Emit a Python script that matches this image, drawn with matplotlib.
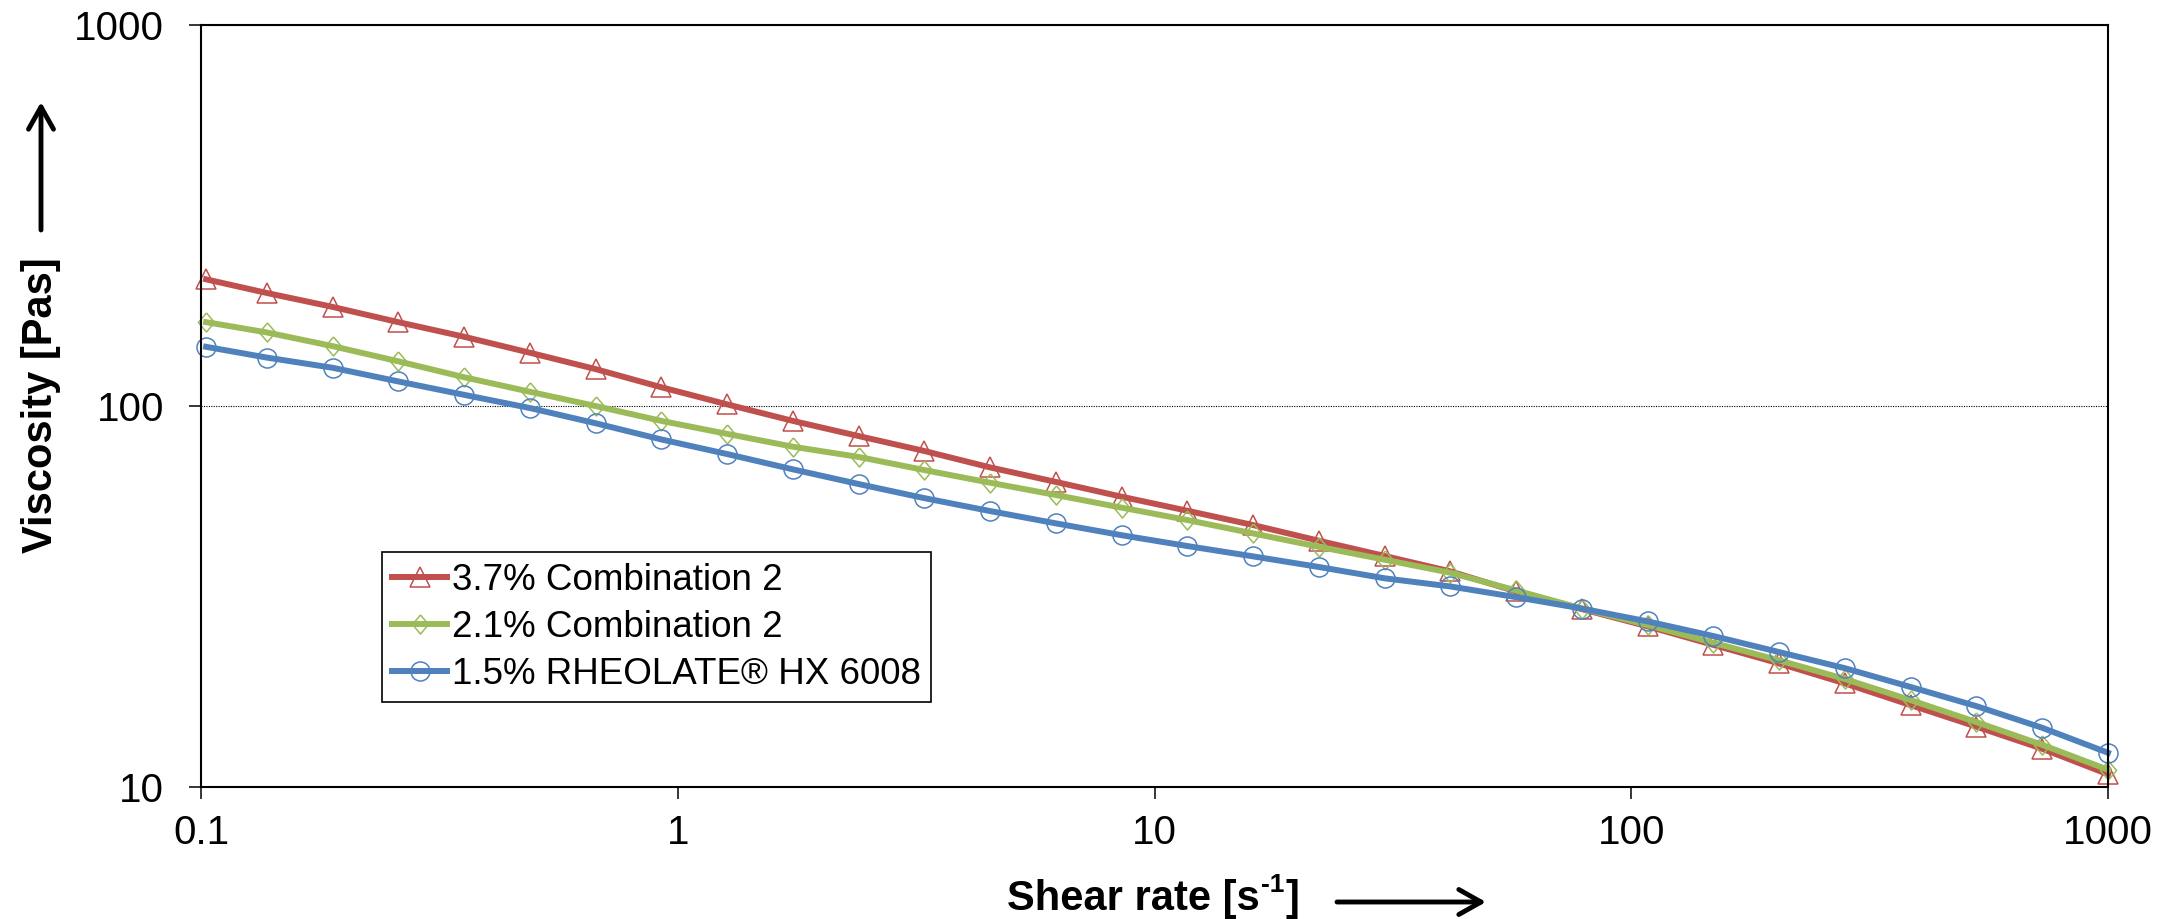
import matplotlib
matplotlib.use('Agg')
import matplotlib.pyplot as plt
from matplotlib.patches import FancyArrowPatch
from matplotlib.ticker import FixedLocator, FixedFormatter, NullLocator

plt.rcParams['font.family'] = ['Liberation Sans', 'DejaVu Sans']

# ---- data ----
shear_rate = [0.1025, 0.1374, 0.1888, 0.2593, 0.3562, 0.4894, 0.6723, 0.9237,
              1.269, 1.743, 2.395, 3.290, 4.520, 6.210, 8.531, 11.72, 16.10,
              22.12, 30.39, 41.75, 57.36, 78.80, 108.3, 148.7, 204.3, 280.7,
              385.7, 529.8, 727.9, 1000.0]

visc_37_comb2 = [215, 198, 182, 166, 152, 138, 125, 112, 101, 91.4,
                 83.4, 76.2, 69.0, 63.2, 57.8, 53.1, 48.7, 44.3, 40.4, 36.8,
                 32.6, 29.3, 26.4, 23.6, 21.1, 18.7, 16.4, 14.4, 12.6, 10.8]

visc_21_comb2 = [166, 156, 143.6, 131, 119, 109, 100, 91.4, 84.5, 78.2,
                 73.5, 67.9, 62.9, 58.4, 54.1, 50.2, 46.3, 42.7, 39.5, 36.5,
                 32.8, 29.4, 26.6, 23.9, 21.5, 19.2, 16.9, 14.8, 12.9, 11.1]

visc_15_hx6008 = [143, 134, 126, 116, 107, 98.8, 90.1, 81.7, 74.8, 68.2,
                  62.4, 57.3, 53.0, 49.2, 45.8, 42.9, 40.3, 37.8, 35.3, 33.6,
                  31.5, 29.4, 27.2, 24.9, 22.6, 20.5, 18.3, 16.3, 14.3, 12.3]

series_labels = ['3.7% Combination 2', '2.1% Combination 2', '1.5% RHEOLATE® HX 6008']
x_ticks = [0.1, 1, 10, 100, 1000]
x_tick_labels = ['0.1', '1', '10', '100', '1000']
y_ticks = [10, 100, 1000]
y_tick_labels = ['10', '100', '1000']

# ---- figure ----
W, H = 2175, 919
fig = plt.figure(figsize=(W / 100, H / 100), dpi=100)
ax = fig.add_axes([201 / W, 1 - 787 / H, (2108 - 201) / W, (787 - 25) / H])

red, green, blue = '#C0504D', '#9BBB59', '#4F81BD'
diamond = [(0, 1), (0.85, 0), (0, -1), (-0.85, 0), (0, 1)]

common = dict(lw=4.3, ms=13.7, mfc='none', mew=1.1, clip_on=False)
ax.plot(shear_rate, visc_37_comb2, color=red, marker='^', mec=red,
        label=series_labels[0], zorder=3, **common)
ax.plot(shear_rate, visc_21_comb2, color=green, marker=diamond, mec=green,
        label=series_labels[1], zorder=4, **common)
ax.plot(shear_rate, visc_15_hx6008, color=blue, marker='o', mec=blue,
        label=series_labels[2], zorder=5, **common)

ax.set_xscale('log')
ax.set_yscale('log')
ax.set_xlim(0.1, 1000)
ax.set_ylim(10, 1000)

ax.xaxis.set_major_locator(FixedLocator(x_ticks))
ax.xaxis.set_major_formatter(FixedFormatter(x_tick_labels))
ax.xaxis.set_minor_locator(NullLocator())
ax.yaxis.set_major_locator(FixedLocator(y_ticks))
ax.yaxis.set_major_formatter(FixedFormatter(y_tick_labels))
ax.yaxis.set_minor_locator(NullLocator())

ax.tick_params(axis='both', which='major', direction='out', length=8.6,
               width=1.1, labelsize=29, colors='black')
ax.tick_params(axis='x', pad=11)
ax.tick_params(axis='y', pad=18)

for sp in ax.spines.values():
    sp.set_linewidth(1.5)
    sp.set_color('black')
    sp.set_zorder(6)

ax.set_axisbelow(True)
ax.grid(axis='y', which='major', color='black', linestyle=(0, (1, 1.2)), linewidth=0.8)

leg = ax.legend(loc='upper left', bbox_to_anchor=(0.0949, 0.308), borderaxespad=0,
                fontsize=26.5, numpoints=1, handlelength=1.5, handletextpad=0.12,
                labelspacing=0.33, borderpad=0.28, fancybox=False, framealpha=1,
                edgecolor='black')
leg.get_frame().set_linewidth(1.2)
leg.set_zorder(7)

# axis titles
fig.text(41 / W, 1 - 405 / H, 'Viscosity [Pas]', rotation=90, ha='center',
         va='center', fontsize=30, fontweight='bold')

base_y = 910  # baseline of the x title, pixels from top
t1 = fig.text(1007 / W, 1 - base_y / H, 'Shear rate [s', ha='left',
              va='baseline', fontsize=30, fontweight='bold')
fig.canvas.draw()
r = fig.canvas.get_renderer()
bb1 = t1.get_window_extent(r)
t2 = fig.text((bb1.x1 + 1) / W, 1 - (base_y - 18) / H, '-1', ha='left',
              va='baseline', fontsize=19, fontweight='bold')
bb2 = t2.get_window_extent(r)
fig.text((bb2.x1 + 1) / W, 1 - base_y / H, ']', ha='left', va='baseline',
         fontsize=30, fontweight='bold')

arrow_kw = dict(arrowstyle='->,head_length=0.8,head_width=0.45', lw=3.5,
                color='black', shrinkA=0, shrinkB=0, mutation_scale=20)
fig.add_artist(FancyArrowPatch((41 / W, 1 - 230 / H), (41 / W, 1 - 102 / H),
                               transform=fig.transFigure, **arrow_kw))
fig.add_artist(FancyArrowPatch((1337 / W, 1 - 902 / H), (1486 / W, 1 - 902 / H),
                               transform=fig.transFigure, **arrow_kw))

fig.savefig('out.png', dpi=100)
